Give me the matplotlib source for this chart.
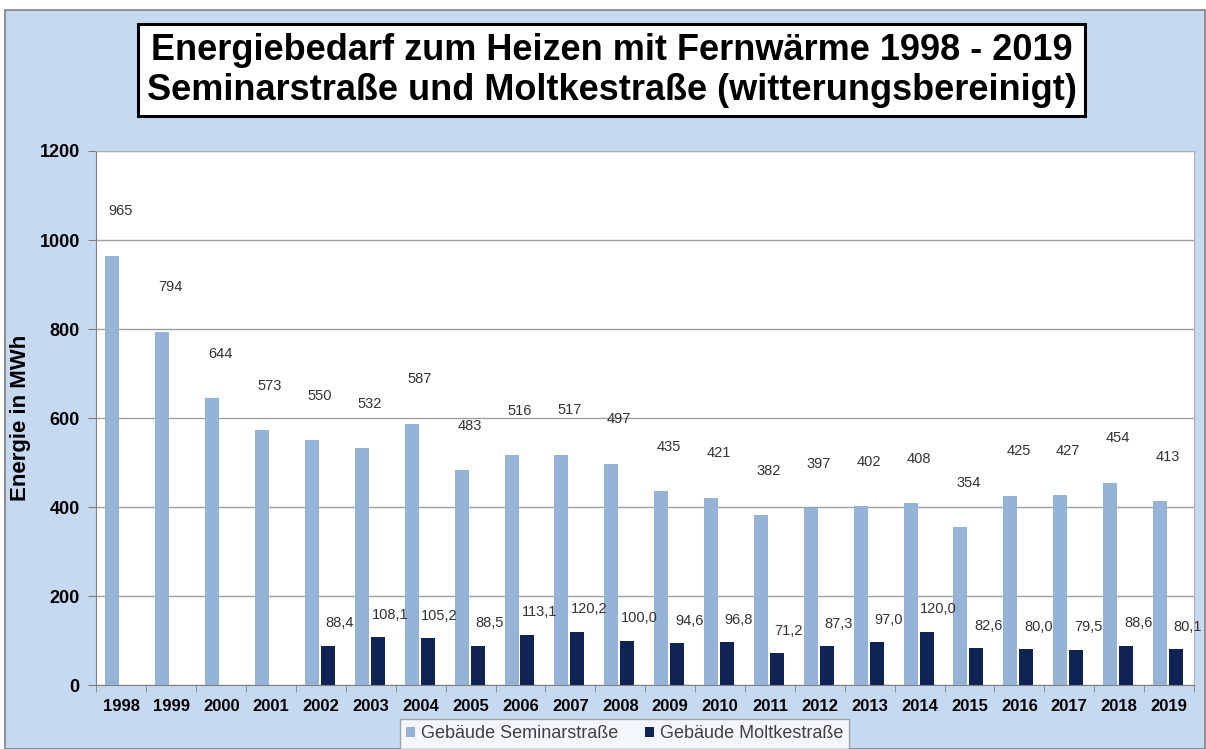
import numpy as np
import matplotlib
matplotlib.use("Agg")
from matplotlib import pyplot as plt
from matplotlib.patches import Rectangle

plt.rcParams['font.family'] = ['Liberation Sans', 'DejaVu Sans']

years = [str(y) for y in range(1998, 2020)]
seminar = [965, 794, 644, 573, 550, 532, 587, 483, 516, 517, 497, 435, 421, 382,
           397, 402, 408, 354, 425, 427, 454, 413]
moltke = [None, None, None, None, 88.4, 108.1, 105.2, 88.5, 113.1, 120.2, 100.0,
          94.6, 96.8, 71.2, 87.3, 97.0, 120.0, 82.6, 80.0, 79.5, 88.6, 80.1]

light = '#95B3D7'
dark = '#0F2354'
bg = '#C5D9F1'

fig = plt.figure(figsize=(12.06, 7.49), dpi=100)
fig.patch.set_facecolor('white')
fig.patches.append(Rectangle((0.004, 0.0), 0.995, 0.986, transform=fig.transFigure,
                             facecolor=bg, edgecolor='#808080', lw=1.2, zorder=-10))

ax = fig.add_axes([0.080, 0.0854, 0.910, 0.713])
x = np.arange(len(years))
w = 0.28

ax.bar(x - 0.18, seminar, width=w, color=light, label='Gebäude Seminarstraße', zorder=3)
mx = [i for i, v in enumerate(moltke) if v is not None]
mv = [v for v in moltke if v is not None]
ax.bar(x[mx] + 0.14, mv, width=w, color=dark, label='Gebäude Moltkestraße', zorder=3)

for i, v in enumerate(seminar):
    ax.annotate(str(v), (x[i] - 0.02, v), xytext=(0, 27), textcoords='offset points',
                ha='center', va='bottom', fontsize=10.5, color='#333333')
for i, v in zip(mx, mv):
    ax.annotate(f"{v:.1f}".replace('.', ','), (x[i] + 0.38, v), xytext=(0, 11),
                textcoords='offset points', ha='center', va='bottom', fontsize=10.5,
                color='#333333')

ax.set_xlim(-0.5, len(years) - 0.5)
ax.set_ylim(0, 1200)
ax.set_yticks(range(0, 1201, 200))
ax.set_yticklabels([str(t) for t in range(0, 1201, 200)], fontsize=13, fontweight='bold')
ax.set_xticks(x)
ax.set_xticklabels(years, fontsize=12, fontweight='bold')
ax.set_xticks(np.arange(-0.5, len(years), 1), minor=True)
ax.tick_params(axis='x', which='major', length=0, pad=10)
ax.tick_params(axis='x', which='minor', length=5, color='#808080')
ax.tick_params(axis='y', length=6, color='#808080', pad=6)
ax.grid(axis='y', color='#A0A0A0', lw=1, zorder=0)
ax.set_ylabel('Energie in MWh', fontsize=16, fontweight='bold', labelpad=6)
for s in ['top', 'right']:
    ax.spines[s].set_color('#B0B0B0')
for s in ['left', 'bottom']:
    ax.spines[s].set_color('#808080')

fig.text(0.507, 0.906, 'Energiebedarf zum Heizen mit Fernwärme 1998 - 2019\n'
         'Seminarstraße und Moltkestraße (witterungsbereinigt)',
         ha='center', va='center', fontsize=26, fontweight='bold', linespacing=1.2,
         bbox=dict(facecolor='white', edgecolor='black', lw=2.2, pad=6))

leg = fig.legend(loc='upper center', bbox_to_anchor=(0.518, 0.052), ncol=2, fontsize=13,
                 frameon=True, fancybox=False, edgecolor='#909090', handlelength=0.5,
                 handleheight=0.5, columnspacing=1.5, borderpad=0.35, handletextpad=0.3,
                 labelcolor='#404040')
leg.get_frame().set_facecolor('white')

fig.savefig('out.png', dpi=100, facecolor=fig.get_facecolor())
